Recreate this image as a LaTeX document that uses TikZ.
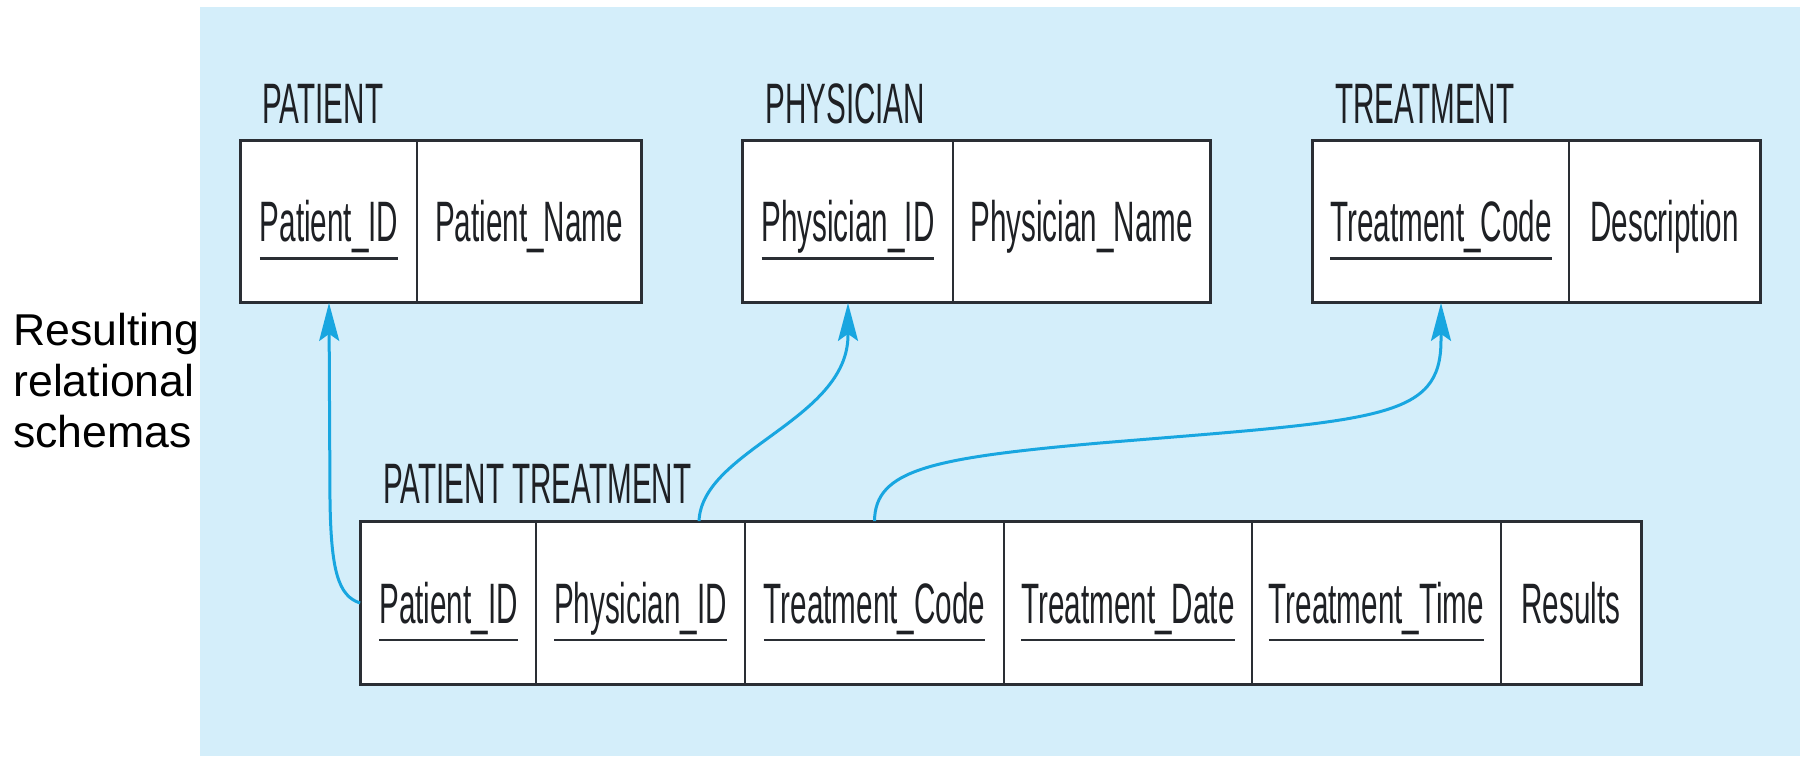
\documentclass[tikz,border=0pt]{standalone}
\usepackage{fontspec}
\setmainfont{Liberation Sans}
\newfontfamily\condfont[FakeStretch=0.52]{Liberation Sans}
\usetikzlibrary{arrows.meta}
\definecolor{bgblue}{RGB}{212,238,250}
\definecolor{fkblue}{RGB}{24,166,224}
\definecolor{boxline}{RGB}{42,46,52}
\definecolor{inkc}{RGB}{30,32,36}
\newcommand\keyu[1]{\setbox0\hbox{#1}\rlap{\color{boxline}\rule[-9.1pt]{\wd0}{1.25pt}}\box0}
\tikzset{
  cell/.style={draw=boxline, line width=0.9pt, fill=white, inner sep=0pt,
    text height=20pt, text depth=0pt, font=\condfont\fontsize{28.5}{30}\selectfont, text=inkc},
  topcell/.style={cell, minimum height=80.5pt},
  botcell/.style={cell, minimum height=81pt},
  frame/.style={draw=boxline, line width=1.5pt},
  title/.style={anchor=base west, inner sep=0pt, font=\condfont\fontsize{28.5}{30}\selectfont, text=inkc},
  fk/.style={draw=fkblue, line width=1.5pt, -{Stealth[length=19pt,width=10pt,inset=3.5pt]}}
}
\begin{document}
\begin{tikzpicture}[x=0.5pt,y=-0.5pt]
\useasboundingbox (0,0) rectangle (1800,756);
\fill[white] (0,0) rectangle (1800,756);
\fill[bgblue] (200,7) rectangle (1800,756);

% side label
\node[anchor=west, inner sep=0pt, align=left, text=black,
  font=\fontsize{22.3}{25.5}\selectfont] (lbl) at (13,381) {Resulting\\relational\\schemas};

% PATIENT
\node[title] (tpa) at (262,123) {PATIENT};
\node[topcell, minimum width=88pt] (pa1) at (329,221.5) {\keyu{Patient\_ID}};
\node[topcell, minimum width=112pt] (pa2) at (529,221.5) {Patient\_Name};
\draw[frame] (pa1.north west) rectangle (pa2.south east);

% PHYSICIAN
\node[title] (tph) at (765,123) {PHYSICIAN};
\node[topcell, minimum width=105pt] (ph1) at (848,221.5) {\keyu{Physician\_ID}};
\node[topcell, minimum width=128.5pt] (ph2) at (1081.5,221.5) {Physician\_Name};
\draw[frame] (ph1.north west) rectangle (ph2.south east);

% TREATMENT
\node[title] (ttr) at (1335,123) {TREATMENT};
\node[topcell, minimum width=128pt] (tr1) at (1441,221.5) {\keyu{Treatment\_Code}};
\node[topcell, minimum width=95.5pt] (tr2) at (1664.5,221.5) {Description};
\draw[frame] (tr1.north west) rectangle (tr2.south east);

% PATIENT TREATMENT
\node[title] (tpt) at (383,503) {PATIENT TREATMENT};
\node[botcell, minimum width=87.5pt] (pt1) at (448.5,603) {\keyu{Patient\_ID}};
\node[botcell, minimum width=104.5pt] (pt2) at (640.5,603) {\keyu{Physician\_ID}};
\node[botcell, minimum width=129.5pt] (pt3) at (874.5,603) {\keyu{Treatment\_Code}};
\node[botcell, minimum width=124pt] (pt4) at (1128,603) {\keyu{Treatment\_Date}};
\node[botcell, minimum width=124.5pt] (pt5) at (1376.5,603) {\keyu{Treatment\_Time}};
\node[botcell, minimum width=70pt] (pt6) at (1571,603) {Results};
\draw[frame] (pt1.north west) rectangle (pt6.south east);

% foreign keys
\path[fk] (pt1.west) .. controls (338,596) and (331,570) .. (330,500) -- (pa1.south);
\path[fk] ([xshift=29.25pt]pt2.north) .. controls (702,450) and (848,420) .. (848,335) -- (ph1.south);
\path[fk] (pt3.north) .. controls (875,470) and (930,458) .. (1100,443)
   .. controls (1380,420) and (1441,420) .. (1441,340) -- (tr1.south);
\end{tikzpicture}
\end{document}
